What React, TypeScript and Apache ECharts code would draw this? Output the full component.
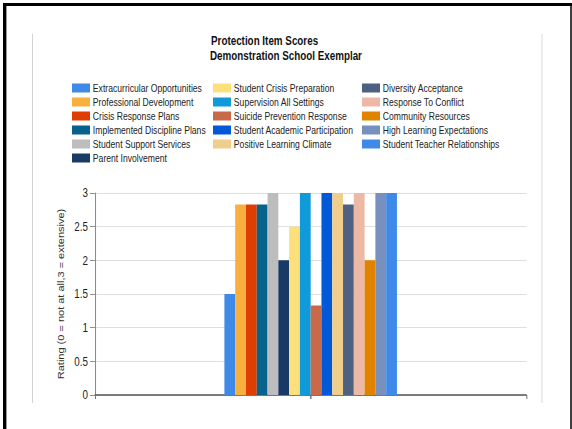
import React, { useEffect, useRef } from "react";
import * as echarts from "echarts";

// Protection items, in legend / bar order
const items: string[] = [
  "Extracurricular Opportunities",
  "Professional Development",
  "Crisis Response Plans",
  "Implemented Discipline Plans",
  "Student Support Services",
  "Parent Involvement",
  "Student Crisis Preparation",
  "Supervision All Settings",
  "Suicide Prevention Response",
  "Student Academic Participation",
  "Positive Learning Climate",
  "Diversity Acceptance",
  "Response To Conflict",
  "Community Resources",
  "High Learning Expectations",
  "Student Teacher Relationships",
];

// Rating for each item (0 = not at all, 3 = extensive)
const scores: number[] = [1.5, 2.83, 2.83, 2.83, 3, 2, 2.5, 3, 1.33, 3, 3, 2.83, 3, 2, 3, 3];

const itemColors: string[] = [
  "#3f8ae6",
  "#f8af3e",
  "#df3e02",
  "#07628e",
  "#bdbdbd",
  "#1a3a66",
  "#fde07c",
  "#0f9ad9",
  "#c8694a",
  "#0259d8",
  "#efce8b",
  "#4e6180",
  "#eeb8a6",
  "#e08400",
  "#7790be",
  "#3f8ae8",
];

const category: string[] = ["Demonstration School Exemplar"];
const yTicks = { min: 0, max: 3, interval: 0.5 };

const legendColumns: number[][] = [
  [0, 1, 2, 3, 4, 5],
  [6, 7, 8, 9, 10],
  [11, 12, 13, 14, 15],
];

// The report renders with horizontally condensed type; the whole chart is
// laid out on a wider canvas and squeezed back to the page width.
const SX = 0.82;
const PAGE_W = 572;
const PAGE_H = 429;
const W = PAGE_W / SX;
const px = (x: number) => x / SX;

const legendLefts = [72, 213, 362];

const SANS = "'Liberation Sans', Arial, sans-serif";

export default function App() {
  const ref = useRef<HTMLDivElement>(null);

  useEffect(() => {
    if (!ref.current) return;
    const chart = echarts.init(ref.current, undefined, { renderer: "svg" });

    const series = items.map((name, i) => ({
      name,
      type: "bar" as const,
      xAxisIndex: 0,
      data: [scores[i]],
      barGap: "0%",
      barCategoryGap: "60%",
      itemStyle: { color: itemColors[i] },
    }));

    const legends = legendColumns.map((col, k) => ({
      orient: "vertical" as const,
      left: px(legendLefts[k]),
      top: 81,
      padding: 0,
      itemGap: 0,
      itemWidth: px(18),
      itemHeight: 9,
      icon: "rect",
      selectedMode: false,
      data: col.map((i) => items[i]),
      textStyle: {
        fontFamily: SANS,
        fontSize: 10.5,
        color: "#222",
        lineHeight: 14,
        padding: [0, 0, 0, -1.5],
      },
    }));

    const vline = (x: number, y1: number, y2: number, color: string, w: number) => ({
      type: "line",
      silent: true,
      shape: { x1: px(x), y1, x2: px(x), y2 },
      style: { stroke: color, lineWidth: px(w) },
    });

    chart.setOption({
      animation: false,
      backgroundColor: "#ffffff",
      title: [
        {
          text: "Protection Item Scores",
          left: px(211),
          top: 35,
          padding: 0,
          textStyle: { fontFamily: SANS, fontSize: 12, fontWeight: "bold", color: "#111" },
        },
        {
          text: "Demonstration School Exemplar",
          left: px(210),
          top: 50,
          padding: 0,
          textStyle: { fontFamily: SANS, fontSize: 12, fontWeight: "bold", color: "#111" },
        },
      ],
      legend: legends,
      grid: { left: px(95), right: W - px(526), top: 193, bottom: 34, containLabel: false },
      xAxis: [
        {
          type: "category",
          data: category,
          axisLine: { show: true, lineStyle: { color: "#555", width: 1.5 } },
          axisTick: { show: true, length: 4, lineStyle: { color: "#777", width: px(1) } },
          axisLabel: { show: false },
          splitLine: { show: false },
        },
        {
          type: "category",
          data: category,
          position: "bottom",
          axisLine: { show: false },
          axisTick: { show: true, alignWithLabel: true, length: 4, lineStyle: { color: "#777", width: px(1.5) } },
          axisLabel: { show: false },
          splitLine: { show: false },
        },
      ],
      yAxis: {
        type: "value",
        min: yTicks.min,
        max: yTicks.max,
        interval: yTicks.interval,
        name: "Rating (0 = not at all,3 = extensive)",
        nameLocation: "middle",
        nameGap: 35,
        nameTextStyle: { fontFamily: SANS, fontSize: 11, color: "#333" },
        axisLine: { show: true, lineStyle: { color: "#888", width: px(1) } },
        axisTick: { show: true, length: px(5), lineStyle: { color: "#888" } },
        axisLabel: { fontFamily: SANS, fontSize: 12, color: "#222", margin: px(7) },
        splitLine: { show: true, lineStyle: { color: "#dcdcdc", width: 1 } },
      },
      series,
      graphic: [
        // outer frame
        vline(4.5, 3, PAGE_H, "#000", 3),
        vline(6.5, 6, PAGE_H, "#999", 1),
        {
          type: "line",
          silent: true,
          shape: { x1: px(3), y1: 4.5, x2: W, y2: 4.5 },
          style: { stroke: "#000", lineWidth: 3 },
        },
        vline(571, 3, PAGE_H, "#000", 1.5),
        // panel edges
        vline(32.5, 34, 403, "#d2d2d2", 1),
        vline(542, 34, 403, "#ececec", 2),
      ],
    });

    return () => chart.dispose();
  }, []);

  return (
    <div style={{ position: "fixed", left: 0, top: 0, width: PAGE_W, height: PAGE_H, overflow: "hidden", background: "#fff" }}>
      <div
        ref={ref}
        style={{
          width: W,
          height: PAGE_H,
          transform: `scaleX(${SX})`,
          transformOrigin: "0 0",
        }}
      />
    </div>
  );
}
